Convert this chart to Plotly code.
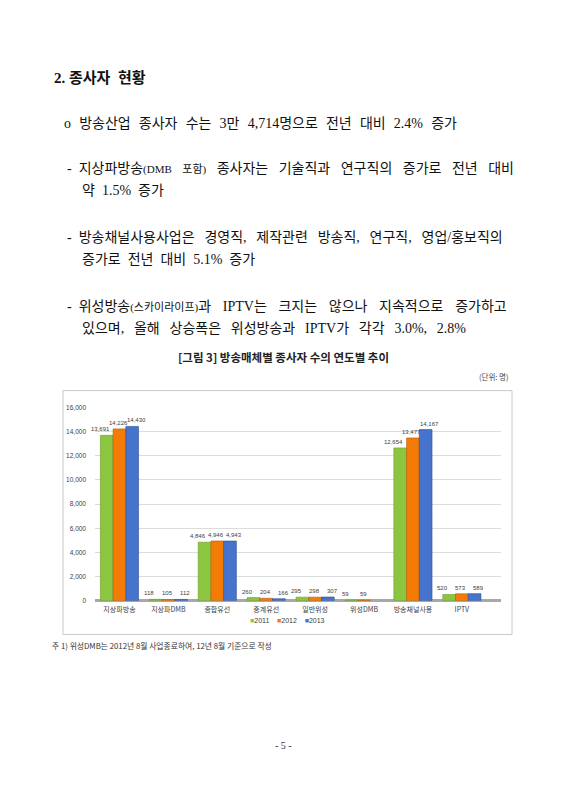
import plotly.graph_objects as go

categories = ["지상파방송", "지상파DMB", "종합유선", "중계유선", "일반위성", "위성DMB", "방송채널사용", "IPTV"]
years = ["2011", "2012", "2013"]
v2011 = [13691, 118, 4846, 260, 295, 59, 12654, 520]
v2012 = [14226, 105, 4946, 204, 298, 59, 13477, 573]
v2013 = [14430, 112, 4943, 166, 307, None, 14167, 589]
y_ticks = [0, 2000, 4000, 6000, 8000, 10000, 12000, 14000, 16000]

colors = ["#8cc641", "#f47b06", "#4673cc"]
edges = ["#6a9a2a", "#b85a00", "#2c4f96"]

# the page body has an 8px margin, so the figure is a bit smaller than the window
OFF = 8
W, H = 566 - OFF, 800 - OFF


def px(x):
    return (x - OFF) / W


def py(y):
    return 1 - (y - OFF) / H


fig = go.Figure()
series = [v2011, v2012, v2013]
for i, vals in enumerate(series):
    fig.add_trace(go.Bar(x=categories, y=vals, name=years[i],
                         marker=dict(color=colors[i], line=dict(color=edges[i], width=0.6)),
                         showlegend=False))

annotations = []

# data labels above bars, spread a bit wider than the bars like the original
for i, vals in enumerate(series):
    for cat, v in zip(categories, vals):
        if v is None:
            continue
        annotations.append(dict(x=cat, y=v, xref="x", yref="y", text=f"{v:,}",
                                showarrow=False, yanchor="bottom", xshift=(i - 1) * 18 - 1,
                                yshift=1, font=dict(size=6, color="#404040",
                                                    family="Liberation Sans")))

# legend
leg = "\u00a0\u00a0\u00a0\u00a0".join(
    f"<span style='color:{c}'>■</span>{y}" for c, y in zip(colors, years))
annotations.append(dict(x=px(287), y=py(627), xref="paper", yref="paper", text=leg,
                        showarrow=False, font=dict(size=7, color="#404040",
                                                   family="Liberation Sans")))

serif = "Liberation Serif, Noto Sans CJK KR"
sans = "Noto Sans CJK KR"
S = "\u00a0"
T = "\u2009"
HS = "\u200a"
G2 = S * 2
G3 = S * 3
small = "<span style='font-size:11px'>{}</span>"

lines = [
    (52, 75, "<b>2." + S + "종사자" + G2 + "현황</b>", 15),
    (62, 120, (G2 + HS).join(["o", "방송산업", "종사자", "수는", "3만", "4,714명으로", "전년", "대비",
                              "2.4%", "증가"]), 14),
    (65, 166, "-" + G2 + G3.join(["지상파방송" + small.format("(DMB"), small.format("포함)"), "종사자는",
                                  "기술직과", "연구직의", "증가로", "전년", "대비"]), 14),
    (80, 188, G2.join(["약", "1.5%", "증가"]), 14),
    (65, 236, "-" + G2 + (G2 + T).join(["방송채널사용사업은", "경영직,", "제작관련", "방송직,",
                                        "연구직,", "영업/홍보직의"]), 14),
    (80, 258, G2.join(["증가로", "전년", "대비", "5.1%", "증가"]), 14),
    (65, 305, "-" + G2 + (G3 + HS).join(["위성방송" + small.format("(스카이라이프)") + "과", "IPTV는",
                                         "크지는", "않으나", "지속적으로", "증가하고"]), 14),
    (80, 327, (G2 + T).join(["있으며,", "올해", "상승폭은", "위성방송과", "IPTV가", "각각",
                             "3.0%,", "2.8%"]), 14),
]
for x, y, t, s in lines:
    annotations.append(dict(x=px(x), y=py(y), xref="paper", yref="paper", text=t,
                            showarrow=False, xanchor="left", yanchor="middle",
                            font=dict(size=s, color="#111111", family=serif)))

annotations += [
    dict(x=px(283), y=py(356), text="<b>[그림 3] 방송매체별 종사자 수의 연도별 추이</b>",
         font=dict(size=11.5, color="#222222", family=sans), xanchor="center"),
    dict(x=px(511), y=py(376), text="(단위: 명)",
         font=dict(size=7.5, color="#444444", family=sans), xanchor="right"),
    dict(x=px(50), y=py(647), text="주 1) 위성DMB는 2012년 8월 사업종료하여, 12년 8월 기준으로 작성",
         font=dict(size=7.8, color="#333333", family=sans), xanchor="left"),
    dict(x=px(283), y=py(748), text="- 5 -",
         font=dict(size=10, color="#333333", family=serif), xanchor="center"),
]
for a in annotations[-4:]:
    a.update(xref="paper", yref="paper", showarrow=False, yanchor="middle")

fig.update_layout(
    width=W, height=H,
    margin=dict(l=0, r=0, t=0, b=0),
    paper_bgcolor="white", plot_bgcolor="white",
    barmode="group", bargap=0.22, bargroupgap=0,
    annotations=annotations,
    shapes=[dict(type="rect", xref="paper", yref="paper",
                 x0=px(63), x1=px(512), y0=py(636), y1=py(390),
                 line=dict(color="#c8c8c8", width=1))],
    xaxis=dict(domain=[px(95), px(501)], range=[-0.5, 7.8], showgrid=False,
               showline=False, ticks="", ticklabelstandoff=3,
               tickfont=dict(size=7, color="#404040", family=sans)),
    yaxis=dict(domain=[py(602), py(407)], range=[0, 16000], tickvals=y_ticks,
               tickformat=",", showgrid=True, gridcolor="#dcdcdc", gridwidth=1,
               zeroline=True, zerolinecolor="#a8a8a8", zerolinewidth=3,
               showline=False, ticks="", ticklabelstandoff=8,
               tickfont=dict(size=6.5, color="#404040", family="Liberation Sans")),
)

fig.write_html("out.html")
